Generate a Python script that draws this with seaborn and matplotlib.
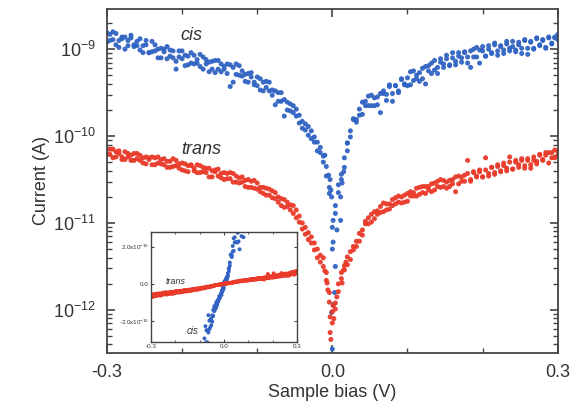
import numpy as np
import pandas as pd
import matplotlib
matplotlib.use("Agg")
import matplotlib.pyplot as plt
import seaborn as sns
from matplotlib.ticker import FixedLocator, NullFormatter, LogFormatterSciNotation

# Bias sweep: -0.3 V to +0.3 V in 4 mV steps (forward and return sweeps share it)
bias = np.linspace(-0.3, 0.3, 151)

# log10 of the measured current (A), forward sweep
cis_log_current_fwd = [
    -8.81, -8.90, -8.80, -8.95, -8.90, -8.86, -9.00, -8.90, -8.87, -8.97,
    -8.96, -8.88, -9.04, -8.95, -9.04, -8.91, -9.02, -9.10, -8.99, -9.03,
    -9.11, -9.01, -9.10, -9.23, -9.02, -9.11, -9.07, -9.18, -9.04, -9.17,
    -9.12, -9.20, -9.09, -9.17, -9.26, -9.14, -9.13, -9.23, -9.26, -9.20,
    -9.17, -9.43, -9.21, -9.29, -9.19, -9.31, -9.37, -9.28, -9.32, -9.41,
    -9.32, -9.47, -9.38, -9.44, -9.38, -9.53, -9.64, -9.50, -9.60, -9.58,
    -9.70, -9.63, -9.73, -9.69, -9.85, -9.83, -9.93, -9.89, -10.03, -10.01,
    -10.17, -10.13, -10.30, -10.35, -10.66, -11.30, -10.89, -10.56, -10.50, -10.25,
    -10.17, -9.94, -9.80, -9.84, -9.69, -9.75, -9.60, -9.65, -9.53, -9.65,
    -9.55, -9.73, -9.48, -9.52, -9.41, -9.51, -9.42, -9.50, -9.35, -9.41,
    -9.42, -9.26, -9.36, -9.30, -9.37, -9.22, -9.40, -9.19, -9.28, -9.13,
    -9.21, -9.15, -9.21, -9.07, -9.18, -9.10, -9.18, -9.04, -9.10, -9.04,
    -9.16, -9.02, -9.09, -8.98, -9.16, -9.02, -9.08, -8.96, -9.05, -8.93,
    -9.02, -8.97, -9.05, -8.94, -8.99, -8.91, -9.01, -8.95, -9.05, -8.90,
    -8.99, -8.91, -9.00, -8.87, -8.96, -8.90, -8.99, -8.87, -8.94, -8.86,
    -8.89,
]

# log10 of the measured current (A), return sweep
cis_log_current_ret = [
    -8.92, -8.83, -8.89, -8.82, -8.98, -8.88, -8.86, -8.96, -8.84, -8.95,
    -8.91, -9.01, -8.96, -8.90, -9.04, -9.03, -8.95, -9.00, -9.10, -9.00,
    -8.97, -9.08, -9.02, -9.14, -9.09, -9.02, -9.19, -9.08, -9.16, -9.07,
    -9.16, -9.06, -9.23, -9.12, -9.15, -9.23, -9.27, -9.13, -9.17, -9.23,
    -9.28, -9.18, -9.38, -9.17, -9.30, -9.25, -9.29, -9.38, -9.27, -9.38,
    -9.42, -9.34, -9.48, -9.37, -9.48, -9.47, -9.48, -9.60, -9.50, -9.77,
    -9.61, -9.71, -9.65, -9.77, -9.76, -9.91, -9.86, -9.99, -9.94, -10.07,
    -10.07, -10.19, -10.23, -10.46, -10.59, -11.05, -10.80, -10.65, -10.44, -10.36,
    -10.08, -10.01, -9.81, -9.81, -9.76, -9.61, -9.65, -9.54, -9.65, -9.56,
    -9.64, -9.51, -9.51, -9.59, -9.43, -9.60, -9.42, -9.48, -9.34, -9.40,
    -9.33, -9.41, -9.25, -9.34, -9.27, -9.34, -9.20, -9.25, -9.16, -9.24,
    -9.28, -9.11, -9.17, -9.11, -9.19, -9.04, -9.14, -9.08, -9.15, -9.03,
    -9.09, -9.21, -9.00, -9.09, -9.01, -8.97, -9.08, -9.00, -9.04, -8.95,
    -9.07, -8.96, -9.01, -8.91, -9.02, -8.97, -9.03, -8.92, -8.99, -8.89,
    -9.06, -8.92, -8.99, -8.88, -8.95, -8.89, -8.98, -8.86, -8.93, -8.87,
    -8.83,
]

trans_log_current_fwd = [
    -10.15, -10.21, -10.15, -10.24, -10.20, -10.27, -10.18, -10.24, -10.22, -10.28,
    -10.20, -10.28, -10.31, -10.24, -10.27, -10.33, -10.25, -10.31, -10.27, -10.33,
    -10.29, -10.36, -10.26, -10.34, -10.37, -10.31, -10.40, -10.34, -10.34, -10.40,
    -10.42, -10.34, -10.41, -10.37, -10.47, -10.40, -10.39, -10.46, -10.43, -10.50,
    -10.43, -10.49, -10.43, -10.53, -10.48, -10.53, -10.58, -10.50, -10.59, -10.51,
    -10.61, -10.59, -10.66, -10.60, -10.68, -10.63, -10.72, -10.70, -10.80, -10.73,
    -10.81, -10.79, -10.89, -10.85, -10.99, -11.00, -11.13, -11.11, -11.23, -11.23,
    -11.40, -11.37, -11.50, -11.57, -11.91, -12.15, -11.99, -11.70, -11.64, -11.49,
    -11.48, -11.33, -11.31, -11.21, -11.21, -11.08, -10.98, -11.01, -10.90, -10.95,
    -10.86, -10.88, -10.77, -10.85, -10.78, -10.80, -10.71, -10.76, -10.70, -10.76,
    -10.66, -10.69, -10.65, -10.69, -10.59, -10.65, -10.58, -10.62, -10.64, -10.54,
    -10.58, -10.50, -10.58, -10.53, -10.58, -10.50, -10.64, -10.46, -10.52, -10.45,
    -10.28, -10.50, -10.41, -10.46, -10.41, -10.47, -10.25, -10.43, -10.36, -10.44,
    -10.35, -10.40, -10.31, -10.37, -10.24, -10.38, -10.30, -10.33, -10.26, -10.34,
    -10.28, -10.37, -10.24, -10.29, -10.21, -10.28, -10.22, -10.19, -10.25, -10.16,
    -10.22,
]

trans_log_current_ret = [
    -10.21, -10.15, -10.25, -10.18, -10.17, -10.24, -10.27, -10.20, -10.28, -10.20,
    -10.26, -10.22, -10.25, -10.32, -10.25, -10.24, -10.33, -10.24, -10.32, -10.26,
    -10.36, -10.29, -10.35, -10.28, -10.32, -10.39, -10.32, -10.41, -10.33, -10.37,
    -10.33, -10.42, -10.36, -10.42, -10.37, -10.47, -10.41, -10.38, -10.48, -10.42,
    -10.49, -10.42, -10.53, -10.46, -10.54, -10.47, -10.51, -10.59, -10.52, -10.60,
    -10.54, -10.64, -10.59, -10.68, -10.61, -10.71, -10.65, -10.76, -10.72, -10.82,
    -10.76, -10.85, -10.80, -10.94, -10.92, -11.07, -11.05, -11.19, -11.16, -11.31,
    -11.30, -11.45, -11.40, -11.66, -11.80, -12.02, -11.92, -11.79, -11.57, -11.54,
    -11.39, -11.42, -11.27, -11.27, -11.12, -11.14, -11.01, -10.94, -10.99, -10.87,
    -10.90, -10.81, -10.87, -10.78, -10.84, -10.73, -10.78, -10.69, -10.77, -10.68,
    -10.75, -10.64, -10.69, -10.60, -10.67, -10.58, -10.66, -10.58, -10.55, -10.62,
    -10.52, -10.59, -10.51, -10.60, -10.51, -10.55, -10.47, -10.55, -10.47, -10.52,
    -10.43, -10.52, -10.42, -10.47, -10.39, -10.47, -10.39, -10.46, -10.36, -10.42,
    -10.33, -10.41, -10.34, -10.40, -10.30, -10.38, -10.28, -10.36, -10.28, -10.37,
    -10.26, -10.33, -10.28, -10.32, -10.22, -10.27, -10.19, -10.31, -10.19, -10.25,
    -10.17,
]

# Extra readings taken close to zero bias, where the current drops sharply
cis_dip_bias = [-0.010, -0.005, -0.003, -0.002, -0.001, 0.001, 0.006, 0.001,
                0.004, 0.003, 0.001, -0.001, 0.011, 0.011, 0.013, 0.015,
                0.020, 0.000]
cis_dip_log_current = [-10.22, -10.45, -10.50, -10.62, -10.70, -10.97, -11.08, -11.22,
                       -11.50, -11.80, -11.94, -12.03, -10.70, -10.97, -10.54, -10.41,
                       -10.08, -12.45]
trans_dip_bias = [-0.010, -0.007, -0.006, -0.003, -0.003, -0.002, 0.001, 0.002,
                  0.006, 0.013, 0.015, 0.018]
trans_dip_log_current = [-11.55, -11.69, -11.77, -12.08, -12.26, -12.34, -11.95, -12.10,
                         -11.85, -11.69, -11.54, -11.45]

isomers = ["cis", "trans"]
palette = {"cis": "#3063c2", "trans": "#e93a2a"}

# Axis ticks
bias_ticks = [-0.3, 0.0, 0.3]
bias_tick_labels = ["-0.3", "0.0", "0.3"]
bias_minor_ticks = [-0.2, -0.1, 0.1, 0.2]
current_decades = [1e-12, 1e-11, 1e-10, 1e-9]
inset_current_ticks = [-2e-10, 0.0, 2e-10]
inset_current_labels = [r"-2.0x10$^{-10}$", "0.0", r"2.0x10$^{-10}$"]

frames = []
for name, b, lg in [("cis", bias, cis_log_current_fwd),
                    ("cis", bias, cis_log_current_ret),
                    ("cis", cis_dip_bias, cis_dip_log_current),
                    ("trans", bias, trans_log_current_fwd),
                    ("trans", bias, trans_log_current_ret),
                    ("trans", trans_dip_bias, trans_dip_log_current)]:
    frames.append(pd.DataFrame({"bias": np.asarray(b, dtype=float),
                                "current": 10.0 ** np.asarray(lg, dtype=float),
                                "isomer": name}))
data = pd.concat(frames, ignore_index=True)
data["signed_current"] = np.sign(data["bias"]) * data["current"]

sns.set_style("ticks")
plt.rcParams["font.family"] = ["Liberation Sans", "DejaVu Sans"]
plt.rcParams["mathtext.fontset"] = "custom"
plt.rcParams["mathtext.rm"] = "Liberation Sans"
plt.rcParams["mathtext.it"] = "Liberation Sans:italic"

text_color = "#333333"
spine_color = "#444444"

fig = plt.figure(figsize=(5.78, 4.08), dpi=100)
ax = fig.add_axes([0.185, 0.135, 0.780, 0.843])

sns.scatterplot(data=data, x="bias", y="current", hue="isomer", hue_order=isomers,
                palette=palette, s=13, linewidth=0, alpha=0.95, legend=False, ax=ax)
ax.set_yscale("log")
ax.set_xlim(-0.3, 0.3)
ax.set_ylim(3.2e-13, 2.9e-9)

ax.xaxis.set_major_locator(FixedLocator(bias_ticks))
ax.set_xticklabels(bias_tick_labels)
ax.xaxis.set_minor_locator(FixedLocator(bias_minor_ticks))

# decade ticks plus 2..9 minor ticks, only those inside the current range
ymin, ymax = ax.get_ylim()
minor_y = [m * d for d in [1e-13] + current_decades for m in range(2, 10)
           if ymin <= m * d <= ymax]
ax.yaxis.set_major_locator(FixedLocator(current_decades))
ax.yaxis.set_major_formatter(LogFormatterSciNotation())
ax.yaxis.set_minor_locator(FixedLocator(minor_y))
ax.yaxis.set_minor_formatter(NullFormatter())

ax.tick_params(which="both", direction="in", top=True, right=True,
               color=spine_color, labelcolor=text_color)
ax.tick_params(which="major", length=6, width=1.2, labelsize=13)
ax.tick_params(axis="x", which="major", pad=8)
ax.tick_params(axis="y", which="major", pad=8)
ax.tick_params(which="minor", length=3.5, width=1.0)
for sp in ax.spines.values():
    sp.set_color(spine_color)
    sp.set_linewidth(1.3)

ax.set_xlabel("Sample bias (V)", fontsize=13, color=text_color, labelpad=2)
ax.set_ylabel("Current (A)", fontsize=13, color=text_color, labelpad=2)

ax.text(-0.188, 10 ** -8.84, "cis", style="italic", fontsize=13,
        color=text_color, ha="center", va="center")
ax.text(-0.175, 10 ** -10.16, "trans", style="italic", fontsize=13,
        color=text_color, ha="center", va="center")

# Inset: the same sweeps on a linear current scale
axin = fig.add_axes([0.261, 0.162, 0.253, 0.270])
sns.scatterplot(data=data, x="bias", y="signed_current", hue="isomer", hue_order=isomers,
                palette=palette, s=8, linewidth=0, legend=False, ax=axin)
axin.set_xlim(-0.3, 0.3)
axin.set_ylim(-3.14e-10, 2.81e-10)
axin.xaxis.set_major_locator(FixedLocator(bias_ticks))
axin.set_xticklabels(bias_tick_labels)
axin.xaxis.set_minor_locator(FixedLocator(bias_minor_ticks))
axin.yaxis.set_major_locator(FixedLocator(inset_current_ticks))
axin.set_yticklabels(inset_current_labels)
axin.tick_params(which="both", direction="in", top=True, right=True,
                 color=spine_color, labelcolor=text_color, labelsize=4.5, pad=1.5)
axin.tick_params(which="major", length=2.5, width=0.8)
axin.tick_params(which="minor", length=1.5, width=0.6)
axin.set_xlabel("")
axin.set_ylabel("")
for sp in axin.spines.values():
    sp.set_color(spine_color)
    sp.set_linewidth(1.0)
axin.text(-0.2, 1.2e-11, "trans", style="italic", fontsize=6.5,
          color=text_color, ha="center", va="center")
axin.text(-0.13, -2.54e-10, "cis", style="italic", fontsize=7,
          color=text_color, ha="center", va="center")

fig.savefig("out.png", dpi=100)
